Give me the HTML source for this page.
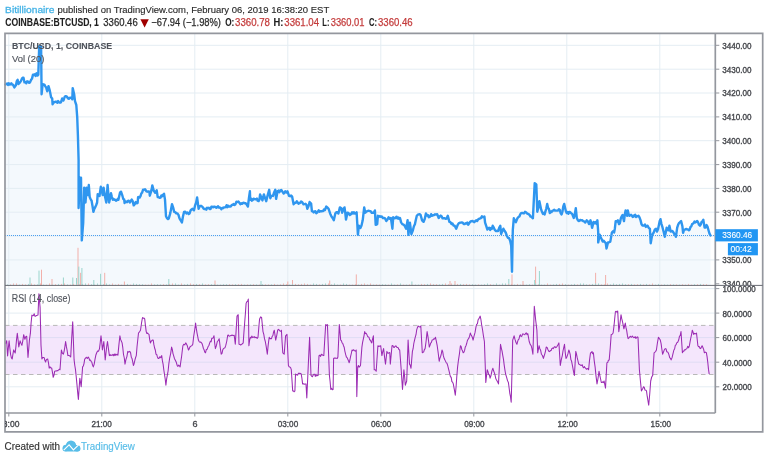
<!DOCTYPE html>
<html><head><meta charset="utf-8"><style>
html,body{margin:0;padding:0;background:#fff;width:768px;height:460px;overflow:hidden}
svg{display:block;will-change:transform}
text{font-family:"Liberation Sans", sans-serif}
</style></head><body>
<svg width="768" height="460" viewBox="0 0 768 460">
<defs><clipPath id="clipP"><rect x="700" y="0" width="68" height="285"/></clipPath><clipPath id="clipL"><rect x="5" y="0" width="100" height="460"/></clipPath></defs>
<rect x="0" y="0" width="768" height="460" fill="#fff"/>

<path d="M5.5,84.4 L13.0,84.6 L14.4,87.4 L16.0,85.0 L17.6,79.8 L18.5,84.0 L20.0,82.4 L23.5,77.8 L24.5,82.4 L30.0,82.4 L31.0,80.0 L33.0,74.6 L38.3,74.6 L39.2,46.2 L40.2,45.9 L41.1,46.5 L41.6,94.2 L42.6,84.1 L43.5,84.5 L45.2,86.1 L47.2,91.3 L48.5,86.1 L49.8,90.7 L51.1,97.2 L52.2,98.5 L52.6,104.4 L54.4,102.4 L56.3,101.8 L60.9,102.4 L62.2,98.5 L63.5,100.5 L64.8,96.5 L66.8,96.5 L68.1,98.5 L72.3,99.2 L72.7,88.1 L74.2,94.6 L75.0,101.1 L76.3,105.0 L77.2,116.8 L77.9,135.0 L78.6,160.0 L78.6,208.0 L79.9,177.6 L81.0,177.6 L81.8,240.4 L83.2,222.8 L84.2,187.7 L85.5,202.5 L86.6,187.7 L87.9,195.1 L88.8,185.0 L89.7,197.0 L91.6,200.7 L93.4,211.8 L95.3,207.1 L97.1,202.5 L97.7,194.2 L99.5,196.0 L100.8,186.8 L102.7,195.1 L103.6,187.7 L105.1,197.0 L106.3,202.5 L107.6,185.0 L109.1,202.5 L111.0,193.3 L112.8,199.7 L118.4,199.7 L120.0,192.7 L121.0,191.7 L122.4,195.7 L124.2,199.6 L124.6,203.0 L127.8,201.0 L129.8,202.5 L131.7,199.6 L133.7,205.4 L135.7,202.0 L137.6,203.0 L138.1,197.1 L140.5,196.1 L143.0,189.8 L145.0,189.3 L146.4,191.3 L149.4,191.7 L149.8,195.7 L152.3,185.4 L153.8,190.8 L155.2,192.7 L156.7,190.3 L157.7,197.1 L160.6,197.6 L163.1,194.7 L164.0,193.7 L165.0,199.6 L166.0,216.2 L168.0,219.1 L170.4,212.6 L172.0,204.2 L174.2,211.9 L177.3,213.4 L179.6,218.7 L181.9,222.5 L184.1,211.9 L186.4,213.4 L188.7,214.1 L192.5,208.8 L194.0,210.3 L197.1,197.4 L198.6,208.8 L200.9,205.8 L205.4,208.8 L213.1,207.3 L222.2,208.0 L228.3,205.8 L234.4,205.0 L237.4,202.0 L240.3,204.2 L246.4,204.2 L247.9,206.5 L249.9,191.3 L250.2,199.7 L259.4,199.7 L260.1,194.4 L262.4,200.4 L263.9,194.4 L266.2,201.2 L267.7,195.1 L269.2,189.8 L270.3,198.2 L273.0,195.9 L275.3,189.8 L276.1,198.9 L277.6,191.3 L282.2,191.3 L283.7,193.6 L285.2,191.3 L287.5,191.3 L289.0,195.9 L292.1,196.6 L293.6,204.2 L295.1,202.7 L302.0,202.0 L303.5,204.2 L306.5,205.0 L307.3,208.8 L309.6,202.0 L311.1,203.5 L311.9,211.1 L317.2,212.6 L318.7,210.3 L324.8,210.3 L326.3,206.5 L328.6,208.8 L330.1,213.4 L331.5,216.5 L333.8,220.3 L335.3,213.5 L338.4,213.5 L339.9,207.4 L341.4,208.2 L342.2,212.7 L344.5,207.4 L345.2,212.0 L346.0,219.6 L347.5,212.7 L349.8,215.0 L352.1,212.3 L356.6,212.3 L357.4,225.7 L357.9,234.8 L358.9,225.7 L360.4,227.9 L362.7,220.3 L364.2,207.4 L365.3,212.7 L367.3,211.2 L372.6,212.7 L374.9,210.4 L375.7,224.9 L377.2,224.1 L377.9,215.8 L381.8,216.5 L384.0,218.0 L386.3,221.1 L388.6,217.3 L390.9,218.0 L392.4,228.7 L393.2,217.3 L400.0,218.0 L402.3,224.1 L404.6,225.7 L406.1,228.7 L407.6,220.3 L408.4,234.8 L409.9,222.6 L411.4,234.0 L412.9,230.2 L416.8,215.8 L420.6,215.0 L422.1,220.3 L423.6,221.8 L425.9,213.5 L428.8,217.3 L431.1,214.2 L434.1,215.0 L437.2,214.2 L438.7,218.0 L441.7,216.5 L445.5,218.8 L447.8,215.8 L449.4,221.9 L452.4,223.4 L454.7,225.7 L456.2,228.7 L457.7,224.9 L460.8,222.6 L464.6,224.1 L469.1,223.4 L471.4,221.1 L475.2,221.1 L479.0,218.8 L482.8,217.3 L484.4,216.5 L485.1,222.6 L487.4,229.5 L492.0,228.7 L492.7,225.7 L495.0,230.2 L498.1,231.0 L500.3,225.7 L501.1,234.0 L503.4,228.7 L505.7,232.5 L508.0,237.8 L510.2,240.9 L511.2,245.7 L512.0,271.8 L512.8,230.0 L513.8,218.3 L515.9,222.2 L518.5,217.0 L521.1,213.1 L525.0,211.8 L528.9,214.4 L532.9,218.3 L534.7,183.1 L536.3,184.4 L537.3,211.8 L539.4,201.3 L542.0,211.8 L544.6,214.4 L547.2,203.9 L549.8,213.1 L555.0,210.5 L558.9,209.2 L561.6,214.4 L564.2,203.9 L566.8,213.1 L570.0,212.0 L572.3,214.2 L573.8,218.0 L575.8,208.2 L576.8,218.0 L579.1,221.1 L582.2,220.3 L585.2,222.6 L586.7,220.3 L589.0,224.1 L590.5,220.3 L592.1,227.9 L593.6,221.9 L596.6,224.1 L597.4,220.3 L598.2,231.8 L598.2,242.4 L599.7,234.8 L602.7,241.6 L605.8,243.2 L606.5,248.5 L608.0,242.4 L610.3,241.6 L611.9,232.5 L614.1,232.5 L615.7,221.1 L617.9,220.3 L619.0,224.1 L622.5,215.0 L624.0,221.1 L625.6,210.4 L627.1,215.8 L627.8,210.4 L629.4,215.8 L638.5,215.8 L641.5,224.1 L643.1,225.7 L647.6,225.7 L649.9,228.7 L650.7,243.2 L652.2,234.8 L653.7,232.5 L656.0,228.7 L657.0,231.6 L658.9,225.0 L660.5,219.2 L662.2,226.3 L664.8,236.8 L666.7,227.6 L668.7,230.2 L669.4,225.7 L670.7,231.6 L673.3,232.2 L675.9,236.8 L677.2,227.6 L679.8,222.4 L681.1,221.1 L682.4,226.3 L683.1,232.9 L685.0,229.6 L688.9,230.2 L692.9,223.7 L695.5,222.4 L698.1,222.4 L700.0,225.7 L703.3,219.8 L704.6,227.6 L706.6,225.0 L708.5,230.2 L710.5,235.5 L710.5,285.4 L5.5,285.4 Z" fill="#f4f9fd" stroke="none"/>
<g stroke="#e4edf3" stroke-width="1"><line x1="8.8" y1="33.4" x2="8.8" y2="413.0" /><line x1="101.8" y1="33.4" x2="101.8" y2="413.0" /><line x1="194.8" y1="33.4" x2="194.8" y2="413.0" /><line x1="287.8" y1="33.4" x2="287.8" y2="413.0" /><line x1="380.8" y1="33.4" x2="380.8" y2="413.0" /><line x1="473.8" y1="33.4" x2="473.8" y2="413.0" /><line x1="566.8" y1="33.4" x2="566.8" y2="413.0" /><line x1="659.8" y1="33.4" x2="659.8" y2="413.0" /><line x1="5.0" y1="45.3" x2="715.3" y2="45.3" /><line x1="5.0" y1="69.2" x2="715.3" y2="69.2" /><line x1="5.0" y1="93.0" x2="715.3" y2="93.0" /><line x1="5.0" y1="116.9" x2="715.3" y2="116.9" /><line x1="5.0" y1="140.7" x2="715.3" y2="140.7" /><line x1="5.0" y1="164.6" x2="715.3" y2="164.6" /><line x1="5.0" y1="188.4" x2="715.3" y2="188.4" /><line x1="5.0" y1="212.2" x2="715.3" y2="212.2" /><line x1="5.0" y1="236.1" x2="715.3" y2="236.1" /><line x1="5.0" y1="259.9" x2="715.3" y2="259.9" /><line x1="5.0" y1="288.6" x2="715.3" y2="288.6" /><line x1="5.0" y1="313.1" x2="715.3" y2="313.1" /><line x1="5.0" y1="337.6" x2="715.3" y2="337.6" /><line x1="5.0" y1="362.2" x2="715.3" y2="362.2" /><line x1="5.0" y1="386.8" x2="715.3" y2="386.8" /></g>
<rect x="29.5" y="277.5" width="1" height="7.9" fill="#9ad5cd"/><rect x="38.5" y="270.6" width="1" height="14.8" fill="#9ad5cd"/><rect x="41.0" y="269.7" width="1" height="15.7" fill="#f2b0aa"/><rect x="51.5" y="279.0" width="1" height="6.4" fill="#f2b0aa"/><rect x="62.9" y="277.5" width="1" height="7.9" fill="#9ad5cd"/><rect x="72.3" y="277.5" width="1" height="7.9" fill="#9ad5cd"/><rect x="76.0" y="278.0" width="1" height="7.4" fill="#9ad5cd"/><rect x="77.5" y="247.8" width="1" height="37.6" fill="#f2b0aa"/><rect x="78.3" y="266.6" width="1" height="18.8" fill="#9ad5cd"/><rect x="80.1" y="272.8" width="1" height="12.6" fill="#f2b0aa"/><rect x="81.4" y="268.0" width="1" height="17.4" fill="#9ad5cd"/><rect x="93.3" y="280.0" width="1" height="5.4" fill="#9ad5cd"/><rect x="100.1" y="273.8" width="1" height="11.6" fill="#9ad5cd"/><rect x="104.2" y="272.8" width="1" height="12.6" fill="#f2b0aa"/><rect x="123.9" y="281.5" width="1" height="3.9" fill="#f2b0aa"/><rect x="168.3" y="279.0" width="1" height="6.4" fill="#9ad5cd"/><rect x="214.5" y="280.5" width="1" height="4.9" fill="#f2b0aa"/><rect x="260.5" y="281.0" width="1" height="4.4" fill="#9ad5cd"/><rect x="287.3" y="281.5" width="1" height="3.9" fill="#f2b0aa"/><rect x="292.0" y="280.0" width="1" height="5.4" fill="#f2b0aa"/><rect x="329.2" y="280.5" width="1" height="4.9" fill="#f2b0aa"/><rect x="355.8" y="274.4" width="1" height="11.0" fill="#f2b0aa"/><rect x="411.4" y="281.5" width="1" height="3.9" fill="#9ad5cd"/><rect x="449.5" y="281.0" width="1" height="4.4" fill="#f2b0aa"/><rect x="454.5" y="281.0" width="1" height="4.4" fill="#f2b0aa"/><rect x="508.3" y="279.0" width="1" height="6.4" fill="#9ad5cd"/><rect x="511.5" y="274.4" width="1" height="11.0" fill="#f2b0aa"/><rect x="522.5" y="281.0" width="1" height="4.4" fill="#f2b0aa"/><rect x="534.2" y="280.0" width="1" height="5.4" fill="#9ad5cd"/><rect x="535.1" y="266.6" width="1" height="18.8" fill="#f2b0aa"/><rect x="538.9" y="271.0" width="1" height="14.4" fill="#9ad5cd"/><rect x="595.1" y="272.8" width="1" height="12.6" fill="#f2b0aa"/><rect x="605.1" y="275.0" width="1" height="10.4" fill="#f2b0aa"/><rect x="7" y="284.4" width="1" height="1" fill="#acdcd5"/><rect x="10" y="284.4" width="1" height="1" fill="#f4c0bb"/><rect x="13" y="283.4" width="1" height="2" fill="#f4c0bb"/><rect x="16" y="283.4" width="1" height="2" fill="#f4c0bb"/><rect x="19" y="284.6" width="1" height="0.8" fill="#acdcd5"/><rect x="22" y="283.9" width="1" height="1.5" fill="#f4c0bb"/><rect x="25" y="284.4" width="1" height="1" fill="#f4c0bb"/><rect x="28" y="283.9" width="1" height="1.5" fill="#acdcd5"/><rect x="31" y="283.4" width="1" height="2" fill="#f4c0bb"/><rect x="34" y="284.4" width="1" height="1" fill="#f4c0bb"/><rect x="37" y="284.4" width="1" height="1" fill="#acdcd5"/><rect x="40" y="283.4" width="1" height="2" fill="#f4c0bb"/><rect x="43" y="284.6" width="1" height="0.8" fill="#acdcd5"/><rect x="46" y="284.6" width="1" height="0.8" fill="#f4c0bb"/><rect x="49" y="283.4" width="1" height="2" fill="#f4c0bb"/><rect x="52" y="284.6" width="1" height="0.8" fill="#acdcd5"/><rect x="55" y="284.2" width="1" height="1.2" fill="#f4c0bb"/><rect x="58" y="283.9" width="1" height="1.5" fill="#acdcd5"/><rect x="61" y="283.9" width="1" height="1.5" fill="#f4c0bb"/><rect x="64" y="283.4" width="1" height="2" fill="#f4c0bb"/><rect x="67" y="284.4" width="1" height="1" fill="#acdcd5"/><rect x="70" y="284.6" width="1" height="0.8" fill="#f4c0bb"/><rect x="73" y="283.9" width="1" height="1.5" fill="#f4c0bb"/><rect x="76" y="283.9" width="1" height="1.5" fill="#acdcd5"/><rect x="79" y="284.2" width="1" height="1.2" fill="#f4c0bb"/><rect x="82" y="283.9" width="1" height="1.5" fill="#acdcd5"/><rect x="85" y="283.4" width="1" height="2" fill="#acdcd5"/><rect x="88" y="283.4" width="1" height="2" fill="#f4c0bb"/><rect x="91" y="284.2" width="1" height="1.2" fill="#acdcd5"/><rect x="94" y="284.6" width="1" height="0.8" fill="#acdcd5"/><rect x="97" y="283.4" width="1" height="2" fill="#acdcd5"/><rect x="100" y="284.4" width="1" height="1" fill="#acdcd5"/><rect x="103" y="284.2" width="1" height="1.2" fill="#acdcd5"/><rect x="106" y="283.4" width="1" height="2" fill="#acdcd5"/><rect x="109" y="284.4" width="1" height="1" fill="#acdcd5"/><rect x="112" y="283.4" width="1" height="2" fill="#f4c0bb"/><rect x="115" y="284.6" width="1" height="0.8" fill="#f4c0bb"/><rect x="118" y="283.9" width="1" height="1.5" fill="#f4c0bb"/><rect x="121" y="284.6" width="1" height="0.8" fill="#f4c0bb"/><rect x="124" y="284.4" width="1" height="1" fill="#f4c0bb"/><rect x="127" y="283.9" width="1" height="1.5" fill="#acdcd5"/><rect x="130" y="284.6" width="1" height="0.8" fill="#f4c0bb"/><rect x="133" y="283.4" width="1" height="2" fill="#acdcd5"/><rect x="136" y="283.9" width="1" height="1.5" fill="#acdcd5"/><rect x="139" y="284.2" width="1" height="1.2" fill="#acdcd5"/><rect x="142" y="284.2" width="1" height="1.2" fill="#acdcd5"/><rect x="145" y="284.6" width="1" height="0.8" fill="#f4c0bb"/><rect x="148" y="284.6" width="1" height="0.8" fill="#f4c0bb"/><rect x="151" y="283.4" width="1" height="2" fill="#f4c0bb"/><rect x="154" y="284.4" width="1" height="1" fill="#acdcd5"/><rect x="157" y="284.2" width="1" height="1.2" fill="#acdcd5"/><rect x="160" y="284.4" width="1" height="1" fill="#acdcd5"/><rect x="163" y="284.2" width="1" height="1.2" fill="#f4c0bb"/><rect x="166" y="284.4" width="1" height="1" fill="#acdcd5"/><rect x="169" y="283.9" width="1" height="1.5" fill="#f4c0bb"/><rect x="172" y="283.4" width="1" height="2" fill="#f4c0bb"/><rect x="175" y="283.4" width="1" height="2" fill="#acdcd5"/><rect x="178" y="284.6" width="1" height="0.8" fill="#acdcd5"/><rect x="181" y="283.4" width="1" height="2" fill="#f4c0bb"/><rect x="184" y="284.4" width="1" height="1" fill="#acdcd5"/><rect x="187" y="283.9" width="1" height="1.5" fill="#acdcd5"/><rect x="190" y="283.4" width="1" height="2" fill="#f4c0bb"/><rect x="193" y="284.2" width="1" height="1.2" fill="#f4c0bb"/><rect x="196" y="283.9" width="1" height="1.5" fill="#acdcd5"/><rect x="199" y="284.2" width="1" height="1.2" fill="#f4c0bb"/><rect x="202" y="283.4" width="1" height="2" fill="#acdcd5"/><rect x="205" y="284.4" width="1" height="1" fill="#f4c0bb"/><rect x="208" y="284.2" width="1" height="1.2" fill="#f4c0bb"/><rect x="211" y="284.2" width="1" height="1.2" fill="#acdcd5"/><rect x="214" y="284.2" width="1" height="1.2" fill="#acdcd5"/><rect x="217" y="284.6" width="1" height="0.8" fill="#acdcd5"/><rect x="220" y="284.6" width="1" height="0.8" fill="#acdcd5"/><rect x="223" y="284.2" width="1" height="1.2" fill="#acdcd5"/><rect x="226" y="284.2" width="1" height="1.2" fill="#acdcd5"/><rect x="229" y="284.2" width="1" height="1.2" fill="#f4c0bb"/><rect x="232" y="284.4" width="1" height="1" fill="#f4c0bb"/><rect x="235" y="284.2" width="1" height="1.2" fill="#acdcd5"/><rect x="238" y="284.2" width="1" height="1.2" fill="#f4c0bb"/><rect x="241" y="283.9" width="1" height="1.5" fill="#f4c0bb"/><rect x="244" y="284.6" width="1" height="0.8" fill="#acdcd5"/><rect x="247" y="284.4" width="1" height="1" fill="#f4c0bb"/><rect x="250" y="284.4" width="1" height="1" fill="#acdcd5"/><rect x="253" y="284.2" width="1" height="1.2" fill="#f4c0bb"/><rect x="256" y="284.4" width="1" height="1" fill="#acdcd5"/><rect x="259" y="284.6" width="1" height="0.8" fill="#f4c0bb"/><rect x="262" y="284.2" width="1" height="1.2" fill="#acdcd5"/><rect x="265" y="284.4" width="1" height="1" fill="#f4c0bb"/><rect x="268" y="284.4" width="1" height="1" fill="#f4c0bb"/><rect x="271" y="284.4" width="1" height="1" fill="#acdcd5"/><rect x="274" y="283.9" width="1" height="1.5" fill="#f4c0bb"/><rect x="277" y="284.6" width="1" height="0.8" fill="#f4c0bb"/><rect x="280" y="284.4" width="1" height="1" fill="#f4c0bb"/><rect x="283" y="283.4" width="1" height="2" fill="#f4c0bb"/><rect x="286" y="284.2" width="1" height="1.2" fill="#f4c0bb"/><rect x="289" y="284.6" width="1" height="0.8" fill="#acdcd5"/><rect x="292" y="284.2" width="1" height="1.2" fill="#acdcd5"/><rect x="295" y="283.9" width="1" height="1.5" fill="#f4c0bb"/><rect x="298" y="284.2" width="1" height="1.2" fill="#f4c0bb"/><rect x="301" y="283.9" width="1" height="1.5" fill="#f4c0bb"/><rect x="304" y="283.4" width="1" height="2" fill="#f4c0bb"/><rect x="307" y="283.9" width="1" height="1.5" fill="#f4c0bb"/><rect x="310" y="284.6" width="1" height="0.8" fill="#f4c0bb"/><rect x="313" y="283.4" width="1" height="2" fill="#acdcd5"/><rect x="316" y="283.9" width="1" height="1.5" fill="#acdcd5"/><rect x="319" y="284.4" width="1" height="1" fill="#f4c0bb"/><rect x="322" y="283.9" width="1" height="1.5" fill="#acdcd5"/><rect x="325" y="283.4" width="1" height="2" fill="#acdcd5"/><rect x="328" y="283.4" width="1" height="2" fill="#f4c0bb"/><rect x="331" y="284.4" width="1" height="1" fill="#acdcd5"/><rect x="334" y="283.4" width="1" height="2" fill="#acdcd5"/><rect x="337" y="284.6" width="1" height="0.8" fill="#acdcd5"/><rect x="340" y="284.6" width="1" height="0.8" fill="#f4c0bb"/><rect x="343" y="283.4" width="1" height="2" fill="#acdcd5"/><rect x="346" y="283.9" width="1" height="1.5" fill="#acdcd5"/><rect x="349" y="284.6" width="1" height="0.8" fill="#f4c0bb"/><rect x="352" y="284.6" width="1" height="0.8" fill="#f4c0bb"/><rect x="355" y="284.2" width="1" height="1.2" fill="#f4c0bb"/><rect x="358" y="284.6" width="1" height="0.8" fill="#acdcd5"/><rect x="361" y="283.9" width="1" height="1.5" fill="#f4c0bb"/><rect x="364" y="283.4" width="1" height="2" fill="#f4c0bb"/><rect x="367" y="284.4" width="1" height="1" fill="#f4c0bb"/><rect x="370" y="283.4" width="1" height="2" fill="#f4c0bb"/><rect x="373" y="284.6" width="1" height="0.8" fill="#f4c0bb"/><rect x="376" y="284.4" width="1" height="1" fill="#f4c0bb"/><rect x="379" y="284.6" width="1" height="0.8" fill="#f4c0bb"/><rect x="382" y="284.2" width="1" height="1.2" fill="#acdcd5"/><rect x="385" y="284.4" width="1" height="1" fill="#acdcd5"/><rect x="388" y="284.6" width="1" height="0.8" fill="#f4c0bb"/><rect x="391" y="283.4" width="1" height="2" fill="#acdcd5"/><rect x="394" y="284.6" width="1" height="0.8" fill="#acdcd5"/><rect x="397" y="284.4" width="1" height="1" fill="#f4c0bb"/><rect x="400" y="283.4" width="1" height="2" fill="#acdcd5"/><rect x="403" y="284.6" width="1" height="0.8" fill="#f4c0bb"/><rect x="406" y="284.6" width="1" height="0.8" fill="#acdcd5"/><rect x="409" y="284.4" width="1" height="1" fill="#f4c0bb"/><rect x="412" y="284.6" width="1" height="0.8" fill="#f4c0bb"/><rect x="415" y="284.6" width="1" height="0.8" fill="#acdcd5"/><rect x="418" y="284.6" width="1" height="0.8" fill="#acdcd5"/><rect x="421" y="283.9" width="1" height="1.5" fill="#f4c0bb"/><rect x="424" y="284.2" width="1" height="1.2" fill="#f4c0bb"/><rect x="427" y="283.9" width="1" height="1.5" fill="#acdcd5"/><rect x="430" y="283.4" width="1" height="2" fill="#f4c0bb"/><rect x="433" y="284.2" width="1" height="1.2" fill="#f4c0bb"/><rect x="436" y="284.2" width="1" height="1.2" fill="#f4c0bb"/><rect x="439" y="284.4" width="1" height="1" fill="#acdcd5"/><rect x="442" y="283.9" width="1" height="1.5" fill="#acdcd5"/><rect x="445" y="283.4" width="1" height="2" fill="#f4c0bb"/><rect x="448" y="284.2" width="1" height="1.2" fill="#f4c0bb"/><rect x="451" y="283.4" width="1" height="2" fill="#f4c0bb"/><rect x="454" y="284.6" width="1" height="0.8" fill="#acdcd5"/><rect x="457" y="283.9" width="1" height="1.5" fill="#f4c0bb"/><rect x="460" y="283.9" width="1" height="1.5" fill="#acdcd5"/><rect x="463" y="284.2" width="1" height="1.2" fill="#f4c0bb"/><rect x="466" y="283.9" width="1" height="1.5" fill="#f4c0bb"/><rect x="469" y="284.4" width="1" height="1" fill="#f4c0bb"/><rect x="472" y="284.2" width="1" height="1.2" fill="#acdcd5"/><rect x="475" y="284.6" width="1" height="0.8" fill="#acdcd5"/><rect x="478" y="284.4" width="1" height="1" fill="#f4c0bb"/><rect x="481" y="284.6" width="1" height="0.8" fill="#acdcd5"/><rect x="484" y="284.2" width="1" height="1.2" fill="#acdcd5"/><rect x="487" y="283.4" width="1" height="2" fill="#acdcd5"/><rect x="490" y="284.2" width="1" height="1.2" fill="#f4c0bb"/><rect x="493" y="284.6" width="1" height="0.8" fill="#acdcd5"/><rect x="496" y="283.4" width="1" height="2" fill="#acdcd5"/><rect x="499" y="284.6" width="1" height="0.8" fill="#acdcd5"/><rect x="502" y="283.4" width="1" height="2" fill="#acdcd5"/><rect x="505" y="283.4" width="1" height="2" fill="#acdcd5"/><rect x="508" y="283.9" width="1" height="1.5" fill="#f4c0bb"/><rect x="511" y="283.9" width="1" height="1.5" fill="#f4c0bb"/><rect x="514" y="284.6" width="1" height="0.8" fill="#acdcd5"/><rect x="517" y="283.9" width="1" height="1.5" fill="#f4c0bb"/><rect x="520" y="284.6" width="1" height="0.8" fill="#f4c0bb"/><rect x="523" y="284.6" width="1" height="0.8" fill="#f4c0bb"/><rect x="526" y="284.6" width="1" height="0.8" fill="#acdcd5"/><rect x="529" y="284.2" width="1" height="1.2" fill="#acdcd5"/><rect x="532" y="284.6" width="1" height="0.8" fill="#f4c0bb"/><rect x="535" y="283.4" width="1" height="2" fill="#acdcd5"/><rect x="538" y="284.4" width="1" height="1" fill="#f4c0bb"/><rect x="541" y="284.6" width="1" height="0.8" fill="#acdcd5"/><rect x="544" y="284.6" width="1" height="0.8" fill="#acdcd5"/><rect x="547" y="283.4" width="1" height="2" fill="#f4c0bb"/><rect x="550" y="284.6" width="1" height="0.8" fill="#f4c0bb"/><rect x="553" y="284.4" width="1" height="1" fill="#acdcd5"/><rect x="556" y="283.9" width="1" height="1.5" fill="#acdcd5"/><rect x="559" y="283.9" width="1" height="1.5" fill="#f4c0bb"/><rect x="562" y="283.4" width="1" height="2" fill="#f4c0bb"/><rect x="565" y="284.2" width="1" height="1.2" fill="#acdcd5"/><rect x="568" y="284.6" width="1" height="0.8" fill="#f4c0bb"/><rect x="571" y="284.4" width="1" height="1" fill="#acdcd5"/><rect x="574" y="283.9" width="1" height="1.5" fill="#acdcd5"/><rect x="577" y="284.4" width="1" height="1" fill="#f4c0bb"/><rect x="580" y="283.4" width="1" height="2" fill="#acdcd5"/><rect x="583" y="283.4" width="1" height="2" fill="#acdcd5"/><rect x="586" y="284.4" width="1" height="1" fill="#acdcd5"/><rect x="589" y="284.4" width="1" height="1" fill="#f4c0bb"/><rect x="592" y="283.9" width="1" height="1.5" fill="#acdcd5"/><rect x="595" y="283.4" width="1" height="2" fill="#acdcd5"/><rect x="598" y="283.4" width="1" height="2" fill="#acdcd5"/><rect x="601" y="284.4" width="1" height="1" fill="#f4c0bb"/><rect x="604" y="284.4" width="1" height="1" fill="#f4c0bb"/><rect x="607" y="283.4" width="1" height="2" fill="#f4c0bb"/><rect x="610" y="284.4" width="1" height="1" fill="#acdcd5"/><rect x="613" y="283.4" width="1" height="2" fill="#acdcd5"/><rect x="616" y="284.2" width="1" height="1.2" fill="#acdcd5"/><rect x="619" y="283.9" width="1" height="1.5" fill="#acdcd5"/><rect x="622" y="283.4" width="1" height="2" fill="#acdcd5"/><rect x="625" y="284.2" width="1" height="1.2" fill="#acdcd5"/><rect x="628" y="284.2" width="1" height="1.2" fill="#f4c0bb"/><rect x="631" y="283.9" width="1" height="1.5" fill="#acdcd5"/><rect x="634" y="284.4" width="1" height="1" fill="#f4c0bb"/><rect x="637" y="284.2" width="1" height="1.2" fill="#f4c0bb"/><rect x="640" y="283.9" width="1" height="1.5" fill="#acdcd5"/><rect x="643" y="284.4" width="1" height="1" fill="#f4c0bb"/><rect x="646" y="283.9" width="1" height="1.5" fill="#acdcd5"/><rect x="649" y="284.4" width="1" height="1" fill="#f4c0bb"/><rect x="652" y="283.4" width="1" height="2" fill="#f4c0bb"/><rect x="655" y="284.6" width="1" height="0.8" fill="#acdcd5"/><rect x="658" y="283.9" width="1" height="1.5" fill="#acdcd5"/><rect x="661" y="284.6" width="1" height="0.8" fill="#f4c0bb"/><rect x="664" y="284.4" width="1" height="1" fill="#acdcd5"/><rect x="667" y="284.6" width="1" height="0.8" fill="#acdcd5"/><rect x="670" y="284.2" width="1" height="1.2" fill="#f4c0bb"/><rect x="673" y="284.4" width="1" height="1" fill="#acdcd5"/><rect x="676" y="284.4" width="1" height="1" fill="#f4c0bb"/><rect x="679" y="284.6" width="1" height="0.8" fill="#acdcd5"/><rect x="682" y="284.2" width="1" height="1.2" fill="#f4c0bb"/><rect x="685" y="284.6" width="1" height="0.8" fill="#f4c0bb"/><rect x="688" y="283.9" width="1" height="1.5" fill="#f4c0bb"/><rect x="691" y="284.6" width="1" height="0.8" fill="#f4c0bb"/><rect x="694" y="284.2" width="1" height="1.2" fill="#acdcd5"/><rect x="697" y="284.2" width="1" height="1.2" fill="#f4c0bb"/><rect x="700" y="283.9" width="1" height="1.5" fill="#acdcd5"/><rect x="703" y="284.2" width="1" height="1.2" fill="#f4c0bb"/><rect x="706" y="284.2" width="1" height="1.2" fill="#f4c0bb"/>
<path d="M5.5,84.4 L6.3,83.9 L7.2,83.5 L8.0,84.9 L8.8,83.3 L9.7,84.6 L10.5,84.2 L11.3,83.3 L12.2,84.6 L13.0,84.6 L14.4,87.4 L16.0,85.0 L16.8,81.1 L17.6,79.8 L18.5,84.0 L20.0,82.4 L20.9,81.1 L21.8,78.9 L22.6,77.8 L23.5,77.8 L24.5,82.4 L25.4,82.2 L26.3,83.3 L27.2,81.3 L28.2,81.6 L29.1,82.8 L30.0,82.4 L31.0,80.0 L32.0,78.6 L33.0,74.6 L33.9,74.8 L34.8,74.3 L35.6,75.9 L36.5,73.3 L37.4,75.6 L38.3,74.6 L39.2,46.2 L40.2,45.9 L41.1,46.5 L41.6,94.2 L42.6,84.1 L43.5,84.5 L44.4,84.7 L45.2,86.1 L46.2,87.7 L47.2,91.3 L48.5,86.1 L49.8,90.7 L51.1,97.2 L52.2,98.5 L52.6,104.4 L53.5,102.3 L54.4,102.4 L55.3,101.6 L56.3,101.8 L57.2,102.8 L58.1,101.1 L59.1,102.4 L60.0,102.7 L60.9,102.4 L62.2,98.5 L63.5,100.5 L64.8,96.5 L65.8,96.1 L66.8,96.5 L68.1,98.5 L68.9,98.8 L69.8,97.6 L70.6,97.7 L71.5,98.2 L72.3,99.2 L72.7,88.1 L74.2,94.6 L75.0,101.1 L76.3,105.0 L77.2,116.8 L77.9,135.0 L78.6,160.0 L78.6,208.0 L79.9,177.6 L81.0,177.6 L81.8,240.4 L83.2,222.8 L84.2,187.7 L85.5,202.5 L86.6,187.7 L87.9,195.1 L88.8,185.0 L89.7,197.0 L90.7,199.4 L91.6,200.7 L92.5,206.0 L93.4,211.8 L94.3,208.9 L95.3,207.1 L96.2,205.0 L97.1,202.5 L97.7,194.2 L98.6,195.0 L99.5,196.0 L100.8,186.8 L101.8,190.4 L102.7,195.1 L103.6,187.7 L105.1,197.0 L106.3,202.5 L107.6,185.0 L109.1,202.5 L110.0,198.7 L111.0,193.3 L111.9,197.1 L112.8,199.7 L113.6,199.0 L114.4,199.9 L115.2,199.8 L116.0,200.8 L116.8,200.3 L117.6,199.1 L118.4,199.7 L120.0,192.7 L121.0,191.7 L122.4,195.7 L123.3,199.0 L124.2,199.6 L124.6,203.0 L125.4,201.4 L126.2,201.8 L127.0,202.2 L127.8,201.0 L128.8,200.8 L129.8,202.5 L130.8,201.0 L131.7,199.6 L132.7,201.2 L133.7,205.4 L134.7,204.2 L135.7,202.0 L136.6,203.2 L137.6,203.0 L138.1,197.1 L138.9,197.0 L139.7,197.5 L140.5,196.1 L141.3,193.5 L142.2,192.4 L143.0,189.8 L144.0,189.8 L145.0,189.3 L146.4,191.3 L147.4,191.7 L148.4,191.4 L149.4,191.7 L149.8,195.7 L150.6,193.2 L151.5,190.1 L152.3,185.4 L153.8,190.8 L155.2,192.7 L156.7,190.3 L157.7,197.1 L158.7,197.2 L159.6,197.9 L160.6,197.6 L161.4,195.4 L162.3,196.2 L163.1,194.7 L164.0,193.7 L165.0,199.6 L166.0,216.2 L167.0,218.1 L168.0,219.1 L168.8,218.3 L169.6,215.7 L170.4,212.6 L172.0,204.2 L173.1,207.4 L174.2,211.9 L175.2,212.1 L176.3,213.4 L177.3,213.4 L178.4,214.7 L179.6,218.7 L180.8,220.5 L181.9,222.5 L183.0,216.3 L184.1,211.9 L185.2,211.6 L186.4,213.4 L187.6,212.5 L188.7,214.1 L189.6,213.5 L190.6,210.4 L191.6,209.4 L192.5,208.8 L194.0,210.3 L195.0,205.7 L196.1,202.7 L197.1,197.4 L198.6,208.8 L199.8,206.1 L200.9,205.8 L201.8,206.3 L202.7,207.1 L203.6,208.7 L204.5,209.1 L205.4,208.8 L206.3,209.7 L207.1,207.8 L208.0,208.1 L208.8,207.7 L209.7,209.0 L210.5,209.1 L211.4,206.7 L212.2,206.6 L213.1,207.3 L213.9,206.6 L214.8,206.7 L215.6,207.4 L216.4,207.8 L217.2,207.0 L218.1,206.3 L218.9,207.5 L219.7,207.4 L220.5,208.1 L221.4,209.2 L222.2,208.0 L223.1,208.2 L223.9,207.4 L224.8,207.4 L225.7,207.2 L226.6,205.2 L227.4,207.2 L228.3,205.8 L229.2,206.5 L230.0,206.6 L230.9,206.3 L231.8,205.0 L232.7,204.9 L233.5,204.0 L234.4,205.0 L235.4,204.4 L236.4,201.8 L237.4,202.0 L238.4,201.5 L239.3,202.7 L240.3,204.2 L241.2,203.3 L242.0,203.8 L242.9,202.9 L243.8,202.8 L244.7,203.2 L245.5,203.1 L246.4,204.2 L247.9,206.5 L248.9,198.5 L249.9,191.3 L250.2,199.7 L251.0,198.4 L251.9,200.7 L252.7,200.0 L253.5,198.7 L254.4,199.0 L255.2,199.3 L256.1,199.3 L256.9,198.6 L257.7,200.7 L258.6,201.1 L259.4,199.7 L260.1,194.4 L261.2,197.3 L262.4,200.4 L263.9,194.4 L265.0,197.8 L266.2,201.2 L267.7,195.1 L269.2,189.8 L270.3,198.2 L271.2,196.3 L272.1,195.6 L273.0,195.9 L274.1,192.4 L275.3,189.8 L276.1,198.9 L277.6,191.3 L278.5,190.6 L279.4,192.2 L280.4,190.4 L281.3,190.0 L282.2,191.3 L283.7,193.6 L285.2,191.3 L286.4,192.6 L287.5,191.3 L289.0,195.9 L290.0,196.2 L291.1,195.4 L292.1,196.6 L293.6,204.2 L295.1,202.7 L296.0,202.7 L296.8,201.2 L297.7,202.5 L298.6,203.7 L299.4,203.3 L300.3,202.7 L301.1,201.4 L302.0,202.0 L303.5,204.2 L304.5,204.1 L305.5,203.8 L306.5,205.0 L307.3,208.8 L308.5,206.2 L309.6,202.0 L311.1,203.5 L311.9,211.1 L312.8,211.4 L313.7,212.4 L314.5,211.4 L315.4,211.3 L316.3,213.2 L317.2,212.6 L318.7,210.3 L319.6,211.7 L320.4,211.3 L321.3,211.2 L322.2,211.2 L323.1,211.0 L323.9,209.5 L324.8,210.3 L326.3,206.5 L327.5,207.7 L328.6,208.8 L330.1,213.4 L331.5,216.5 L332.6,218.0 L333.8,220.3 L335.3,213.5 L336.3,212.2 L337.4,212.2 L338.4,213.5 L339.9,207.4 L341.4,208.2 L342.2,212.7 L343.4,209.4 L344.5,207.4 L345.2,212.0 L346.0,219.6 L347.5,212.7 L348.6,213.2 L349.8,215.0 L351.0,214.2 L352.1,212.3 L353.0,213.6 L353.9,212.2 L354.8,213.5 L355.7,213.7 L356.6,212.3 L357.4,225.7 L357.9,234.8 L358.9,225.7 L360.4,227.9 L361.5,225.4 L362.7,220.3 L364.2,207.4 L365.3,212.7 L366.3,211.6 L367.3,211.2 L368.2,210.7 L369.1,210.9 L370.0,211.1 L370.8,211.4 L371.7,212.8 L372.6,212.7 L373.8,212.7 L374.9,210.4 L375.7,224.9 L377.2,224.1 L377.9,215.8 L378.9,216.9 L379.9,216.1 L380.8,216.8 L381.8,216.5 L382.9,218.1 L384.0,218.0 L385.1,218.4 L386.3,221.1 L387.5,219.6 L388.6,217.3 L389.8,218.8 L390.9,218.0 L392.4,228.7 L393.2,217.3 L394.1,218.2 L394.9,218.2 L395.8,217.5 L396.6,216.7 L397.4,218.5 L398.3,217.4 L399.1,218.8 L400.0,218.0 L401.1,222.4 L402.3,224.1 L403.5,224.6 L404.6,225.7 L406.1,228.7 L407.6,220.3 L408.4,234.8 L409.9,222.6 L411.4,234.0 L412.9,230.2 L413.9,226.3 L414.9,224.3 L415.8,220.0 L416.8,215.8 L417.8,214.7 L418.7,214.4 L419.7,214.2 L420.6,215.0 L422.1,220.3 L423.6,221.8 L424.8,218.8 L425.9,213.5 L426.9,215.6 L427.8,215.0 L428.8,217.3 L430.0,216.7 L431.1,214.2 L432.1,215.8 L433.1,215.2 L434.1,215.0 L435.1,214.3 L436.2,214.6 L437.2,214.2 L438.7,218.0 L439.7,216.5 L440.7,215.6 L441.7,216.5 L442.6,218.4 L443.6,218.1 L444.6,218.3 L445.5,218.8 L446.6,218.5 L447.8,215.8 L449.4,221.9 L450.4,222.2 L451.4,223.9 L452.4,223.4 L453.5,225.5 L454.7,225.7 L456.2,228.7 L457.7,224.9 L458.7,223.3 L459.8,222.7 L460.8,222.6 L461.8,222.4 L462.7,222.6 L463.7,224.0 L464.6,224.1 L465.5,223.3 L466.4,223.6 L467.3,222.6 L468.2,224.7 L469.1,223.4 L470.2,221.8 L471.4,221.1 L472.3,221.0 L473.3,221.3 L474.2,222.2 L475.2,221.1 L476.1,220.3 L477.1,221.1 L478.1,219.4 L479.0,218.8 L479.9,218.5 L480.9,218.1 L481.9,216.3 L482.8,217.3 L484.4,216.5 L485.1,222.6 L486.2,225.9 L487.4,229.5 L488.3,228.5 L489.2,227.8 L490.2,229.9 L491.1,227.9 L492.0,228.7 L492.7,225.7 L493.9,227.9 L495.0,230.2 L496.0,231.1 L497.1,230.9 L498.1,231.0 L499.2,227.9 L500.3,225.7 L501.1,234.0 L502.2,231.4 L503.4,228.7 L504.5,230.8 L505.7,232.5 L506.9,235.9 L508.0,237.8 L509.1,238.2 L510.2,240.9 L511.2,245.7 L512.0,271.8 L512.8,230.0 L513.8,218.3 L514.8,220.4 L515.9,222.2 L516.8,219.8 L517.6,218.1 L518.5,217.0 L519.4,216.5 L520.2,214.4 L521.1,213.1 L522.1,212.9 L523.0,213.2 L524.0,213.3 L525.0,211.8 L526.0,212.3 L527.0,213.4 L527.9,213.8 L528.9,214.4 L529.7,215.2 L530.5,216.5 L531.3,216.6 L532.1,217.6 L532.9,218.3 L533.8,200.6 L534.7,183.1 L536.3,184.4 L537.3,211.8 L538.3,207.8 L539.4,201.3 L540.3,205.4 L541.1,209.4 L542.0,211.8 L542.9,213.9 L543.7,212.9 L544.6,214.4 L545.5,211.1 L546.3,208.6 L547.2,203.9 L548.1,207.9 L548.9,209.0 L549.8,213.1 L550.7,211.6 L551.5,212.1 L552.4,210.6 L553.3,210.6 L554.1,209.7 L555.0,210.5 L556.0,210.6 L557.0,210.6 L557.9,210.6 L558.9,209.2 L559.8,210.0 L560.7,213.3 L561.6,214.4 L562.5,211.3 L563.3,206.4 L564.2,203.9 L565.1,208.0 L565.9,211.3 L566.8,213.1 L567.6,212.0 L568.4,213.8 L569.2,212.0 L570.0,212.0 L571.1,213.1 L572.3,214.2 L573.8,218.0 L574.8,214.5 L575.8,208.2 L576.8,218.0 L578.0,220.5 L579.1,221.1 L580.1,219.9 L581.2,220.4 L582.2,220.3 L583.2,221.1 L584.2,221.4 L585.2,222.6 L586.7,220.3 L587.9,221.3 L589.0,224.1 L590.5,220.3 L591.3,223.6 L592.1,227.9 L593.6,221.9 L594.6,223.3 L595.6,222.0 L596.6,224.1 L597.4,220.3 L598.2,231.8 L598.2,242.4 L599.7,234.8 L600.7,237.2 L601.7,239.2 L602.7,241.6 L603.7,240.8 L604.8,242.2 L605.8,243.2 L606.5,248.5 L608.0,242.4 L609.1,242.3 L610.3,241.6 L611.1,237.1 L611.9,232.5 L613.0,231.3 L614.1,232.5 L614.9,228.2 L615.7,221.1 L616.8,221.5 L617.9,220.3 L619.0,224.1 L619.9,223.1 L620.8,218.4 L621.6,216.6 L622.5,215.0 L624.0,221.1 L624.8,214.5 L625.6,210.4 L627.1,215.8 L627.8,210.4 L628.6,213.9 L629.4,215.8 L630.2,215.2 L631.1,214.8 L631.9,215.6 L632.7,217.0 L633.5,216.7 L634.4,215.1 L635.2,214.8 L636.0,217.0 L636.8,216.0 L637.7,216.4 L638.5,215.8 L639.5,217.4 L640.5,220.1 L641.5,224.1 L642.3,225.4 L643.1,225.7 L644.0,225.5 L644.9,224.5 L645.8,226.9 L646.7,226.1 L647.6,225.7 L648.8,228.0 L649.9,228.7 L650.7,243.2 L652.2,234.8 L653.7,232.5 L654.9,229.4 L656.0,228.7 L657.0,231.6 L658.0,229.3 L658.9,225.0 L659.7,220.9 L660.5,219.2 L661.4,223.8 L662.2,226.3 L663.1,229.7 L663.9,232.8 L664.8,236.8 L665.8,232.3 L666.7,227.6 L667.7,230.1 L668.7,230.2 L669.4,225.7 L670.7,231.6 L671.6,231.2 L672.4,231.0 L673.3,232.2 L674.2,233.8 L675.0,234.5 L675.9,236.8 L677.2,227.6 L678.1,224.8 L678.9,223.2 L679.8,222.4 L681.1,221.1 L682.4,226.3 L683.1,232.9 L684.0,230.0 L685.0,229.6 L686.0,228.9 L687.0,229.4 L687.9,229.5 L688.9,230.2 L689.7,229.6 L690.5,227.0 L691.3,226.3 L692.1,224.1 L692.9,223.7 L693.8,222.8 L694.6,221.5 L695.5,222.4 L696.4,221.7 L697.2,221.0 L698.1,222.4 L699.0,224.7 L700.0,225.7 L700.8,224.4 L701.6,221.9 L702.5,221.2 L703.3,219.8 L704.6,227.6 L705.6,227.5 L706.6,225.0 L707.5,226.5 L708.5,230.2 L709.5,233.7 L710.5,235.5" fill="none" stroke="#2f96ef" stroke-width="2.4" stroke-linejoin="round" stroke-linecap="round"/>
<line x1="5.0" y1="235.5" x2="715.3" y2="235.5" stroke="#4a9ff0" stroke-width="1" stroke-dasharray="1,1"/>
<rect x="5.0" y="325.4" width="710.3" height="49.1" fill="#f4e6fc"/>
<g stroke="#b8b8b8" stroke-width="1" stroke-dasharray="4.5,3.5"><line x1="5.0" y1="325.4" x2="715.3" y2="325.4"/><line x1="5.0" y1="374.5" x2="715.3" y2="374.5"/></g>
<g stroke="#dfdcf4" stroke-width="1"><line x1="5.0" y1="337.6" x2="715.3" y2="337.6"/><line x1="5.0" y1="362.2" x2="715.3" y2="362.2"/></g>
<path d="M5.5,343.8 L6.7,340.8 L7.6,356.0 L8.3,348.3 L9.1,340.8 L9.8,347.8 L10.6,354.5 L11.4,357.9 L12.2,359.0 L12.9,354.4 L13.7,349.9 L14.4,351.5 L15.2,353.0 L15.9,346.6 L16.6,339.0 L17.3,333.2 L18.1,340.1 L18.8,346.9 L20.1,340.8 L21.0,343.4 L21.9,345.3 L22.8,340.8 L23.7,334.7 L24.9,339.3 L25.8,336.7 L26.7,336.2 L28.0,357.5 L28.8,347.9 L29.5,339.3 L30.4,333.2 L31.1,323.0 L31.9,315.0 L32.7,315.8 L33.4,315.5 L34.2,313.8 L35.0,316.3 L35.7,316.2 L36.5,315.4 L37.2,315.3 L38.0,315.0 L38.9,293.7 L40.1,307.4 L41.0,345.3 L41.9,359.0 L42.7,357.4 L43.5,357.5 L44.2,357.7 L44.9,360.6 L45.6,362.0 L46.3,359.9 L47.0,359.2 L47.7,359.0 L48.5,362.9 L49.2,368.1 L50.0,366.9 L50.9,368.0 L51.7,368.1 L52.5,372.5 L53.2,377.3 L54.0,375.1 L54.7,371.2 L55.5,371.0 L56.2,371.1 L57.0,370.6 L57.7,370.8 L58.5,370.0 L59.2,369.3 L60.0,369.7 L61.4,350.0 L62.4,353.4 L63.4,354.2 L64.1,351.3 L64.9,346.6 L65.6,341.5 L66.4,346.7 L67.1,350.4 L67.9,355.6 L68.8,355.4 L69.8,356.0 L70.7,357.0 L71.7,338.2 L72.7,321.7 L74.1,359.9 L74.8,365.5 L75.5,369.7 L76.2,376.5 L76.9,383.9 L77.7,392.6 L78.4,399.4 L79.8,378.2 L80.5,382.2 L81.2,386.7 L82.6,366.9 L83.3,366.0 L84.0,363.6 L84.7,359.2 L85.4,358.4 L86.3,357.2 L87.3,358.5 L88.2,357.0 L88.9,358.0 L89.7,360.4 L90.4,360.0 L91.1,361.3 L91.8,362.1 L92.6,365.4 L93.3,366.9 L94.2,364.1 L95.0,359.3 L95.8,355.3 L96.7,352.8 L97.6,351.0 L98.6,351.2 L99.5,348.6 L100.2,342.9 L101.0,335.8 L101.7,341.9 L102.4,350.0 L103.8,341.5 L104.5,350.0 L105.2,359.9 L106.0,352.7 L106.7,346.5 L107.5,341.5 L108.5,349.3 L109.4,355.6 L110.1,354.6 L110.8,355.5 L111.6,355.1 L112.3,355.1 L113.0,354.3 L113.7,355.7 L114.4,354.1 L115.1,355.5 L115.8,354.1 L116.5,354.9 L117.2,354.4 L117.9,355.1 L118.9,344.9 L119.9,335.8 L120.6,339.4 L121.4,341.3 L122.1,342.9 L122.8,347.7 L123.5,354.5 L124.3,358.0 L125.0,364.1 L125.9,359.6 L126.9,356.6 L127.8,351.4 L128.7,352.2 L129.7,351.3 L130.6,352.8 L131.3,357.2 L132.0,358.4 L132.7,361.7 L133.4,365.5 L134.1,363.7 L134.9,360.1 L135.6,357.5 L136.3,355.6 L137.0,347.0 L137.8,339.5 L138.5,333.0 L139.5,331.8 L140.5,330.2 L141.5,323.2 L142.5,317.5 L143.2,318.2 L144.0,318.1 L144.7,318.9 L145.4,325.1 L146.2,331.6 L146.9,333.5 L147.6,333.0 L148.3,333.9 L149.0,334.4 L149.7,339.6 L150.4,342.9 L151.3,341.1 L152.3,340.1 L153.2,340.1 L153.9,344.7 L154.6,348.0 L155.3,350.0 L156.0,354.2 L156.7,354.4 L157.4,356.9 L158.2,358.5 L158.9,358.4 L159.8,356.7 L160.8,357.7 L161.7,355.6 L162.4,360.8 L163.1,364.1 L163.8,369.7 L164.5,374.5 L165.2,379.0 L165.9,385.3 L166.6,379.2 L167.3,375.4 L168.1,371.0 L168.8,364.1 L169.7,357.8 L170.7,353.3 L171.6,347.1 L172.3,349.3 L173.0,353.6 L173.7,355.8 L174.4,358.4 L175.3,360.2 L176.3,362.3 L177.2,365.5 L177.9,366.4 L178.6,365.1 L179.4,365.8 L180.1,366.9 L180.8,361.8 L181.5,357.2 L182.2,351.3 L182.9,345.7 L183.8,344.2 L184.8,344.9 L185.7,342.9 L186.4,343.9 L187.1,345.2 L187.8,347.6 L188.5,350.0 L189.2,348.9 L189.9,347.0 L190.7,346.3 L191.4,345.9 L192.1,345.4 L192.8,344.3 L193.7,336.3 L194.7,329.8 L195.6,323.1 L196.3,328.4 L197.0,332.8 L197.7,336.3 L198.4,340.1 L199.1,341.5 L199.8,342.2 L200.6,342.0 L201.3,342.6 L202.0,343.5 L202.7,345.7 L203.4,348.5 L204.1,349.8 L204.8,352.2 L205.5,352.8 L206.3,349.6 L207.2,349.2 L208.0,346.8 L208.9,345.5 L209.7,342.9 L210.4,341.2 L211.1,341.8 L211.8,338.2 L212.6,338.3 L213.3,337.6 L214.0,335.8 L214.7,343.2 L215.4,348.6 L216.4,345.7 L217.3,341.5 L218.2,340.6 L219.2,338.7 L220.2,347.2 L221.2,354.2 L222.0,353.4 L222.7,350.1 L223.5,348.6 L224.2,348.1 L225.0,347.7 L225.7,345.7 L226.7,341.5 L227.7,335.3 L228.4,335.1 L229.1,336.1 L229.9,336.2 L230.6,335.5 L231.3,335.6 L232.0,335.0 L232.8,335.5 L233.5,335.6 L234.2,335.3 L235.3,344.3 L236.2,329.1 L237.0,316.1 L238.2,314.7 L239.0,344.3 L239.8,344.4 L240.7,345.0 L241.5,344.4 L242.4,343.8 L243.2,342.9 L243.9,332.7 L244.6,323.8 L245.4,313.5 L246.1,303.4 L246.8,301.8 L247.6,301.4 L248.3,299.1 L248.9,345.7 L249.6,340.4 L250.3,337.3 L251.1,338.0 L251.8,336.1 L252.6,337.6 L253.4,337.3 L254.2,336.6 L254.9,337.8 L255.7,337.3 L256.5,337.6 L257.2,338.4 L258.0,337.3 L258.8,327.5 L259.6,318.9 L260.6,316.9 L261.6,317.5 L263.0,331.6 L263.8,334.4 L264.5,338.7 L265.3,341.5 L266.3,347.1 L267.3,354.2 L268.2,344.9 L269.2,337.3 L270.0,338.8 L270.7,338.6 L271.5,338.7 L272.2,336.4 L272.9,335.5 L273.6,331.9 L274.3,330.2 L275.7,340.1 L276.7,335.6 L277.7,330.2 L278.4,329.4 L279.2,330.0 L279.9,331.0 L280.7,331.3 L281.4,330.2 L282.1,342.5 L282.8,352.8 L284.2,354.2 L284.9,344.7 L285.6,335.8 L287.0,334.4 L288.4,365.5 L289.1,366.8 L289.9,367.1 L290.6,367.7 L291.3,369.7 L292.7,390.9 L293.4,390.9 L294.2,391.8 L294.9,390.9 L295.5,374.0 L296.2,374.9 L296.9,374.5 L297.6,375.2 L298.4,373.4 L299.1,373.1 L299.8,373.9 L300.5,373.4 L301.2,374.0 L301.9,378.2 L302.6,383.9 L303.5,383.7 L304.3,384.2 L305.1,383.9 L306.0,383.9 L306.8,398.0 L308.2,366.9 L308.9,351.6 L309.6,337.3 L311.0,375.4 L311.7,376.3 L312.4,376.7 L313.1,375.3 L313.8,374.3 L314.6,374.2 L315.3,376.4 L316.0,374.2 L316.7,375.9 L317.4,375.6 L318.1,375.4 L319.0,355.6 L319.8,355.1 L320.6,356.4 L321.4,354.3 L322.2,354.7 L323.0,355.5 L323.8,355.6 L324.8,338.8 L325.7,324.5 L326.5,325.4 L327.4,324.5 L328.4,349.3 L329.4,375.4 L330.1,381.5 L330.8,389.5 L331.6,388.3 L332.3,389.8 L333.1,389.5 L333.6,358.4 L334.3,358.0 L335.0,358.3 L335.8,358.1 L336.5,358.3 L337.2,358.4 L337.9,357.0 L338.6,341.2 L339.3,324.5 L340.7,340.1 L341.4,340.7 L342.1,342.8 L342.8,343.5 L343.5,345.7 L344.2,347.3 L344.9,351.3 L345.7,354.7 L346.4,357.0 L347.1,357.6 L347.8,359.3 L348.5,360.9 L349.2,362.7 L349.9,360.0 L350.6,356.4 L351.3,353.5 L352.0,350.0 L352.8,350.7 L353.7,349.7 L354.5,350.8 L355.4,351.1 L356.2,350.0 L356.8,396.6 L357.7,366.9 L358.4,365.5 L359.1,367.3 L359.8,366.4 L360.5,365.5 L361.9,347.1 L362.6,342.3 L363.3,339.2 L364.0,335.8 L364.7,331.6 L365.4,333.6 L366.1,333.2 L366.9,334.6 L367.6,336.4 L368.3,337.1 L369.0,337.3 L369.7,339.9 L370.4,340.0 L371.1,341.9 L371.8,342.9 L372.3,340.1 L373.4,335.8 L374.2,369.7 L375.2,369.7 L376.2,371.2 L377.0,359.0 L377.9,345.7 L378.6,346.5 L379.3,346.1 L380.0,346.3 L380.7,345.7 L381.9,355.6 L382.8,351.4 L383.6,348.6 L384.6,357.4 L385.5,364.1 L386.9,351.4 L387.6,353.0 L388.4,353.3 L389.1,352.5 L389.8,352.8 L390.3,364.1 L391.1,355.7 L392.0,345.7 L392.8,345.5 L393.6,347.3 L394.3,347.4 L395.1,346.3 L395.9,345.9 L396.6,347.0 L397.4,347.6 L398.2,347.7 L398.9,349.5 L399.7,350.0 L400.4,359.1 L401.1,368.3 L402.5,389.5 L403.9,369.7 L404.6,376.3 L405.3,385.3 L406.7,381.0 L407.4,361.4 L408.1,340.1 L409.5,364.1 L410.2,365.1 L411.0,368.3 L412.4,351.4 L413.1,348.7 L413.8,343.5 L414.5,340.4 L415.2,337.3 L416.0,334.7 L416.7,329.8 L417.5,327.4 L418.3,326.1 L419.1,326.7 L420.0,326.9 L420.8,326.0 L421.6,340.3 L422.3,352.8 L423.0,352.2 L423.7,351.9 L424.4,349.6 L425.1,348.6 L426.1,341.3 L427.1,331.6 L427.8,335.7 L428.6,341.2 L429.3,347.1 L430.0,345.4 L430.7,343.1 L431.4,342.4 L432.1,340.1 L433.0,339.8 L433.8,338.8 L434.6,338.9 L435.5,337.3 L436.4,341.7 L437.2,345.7 L438.2,353.0 L439.2,361.3 L439.9,358.2 L440.6,356.5 L441.3,353.9 L442.0,350.0 L442.7,351.7 L443.4,355.9 L444.2,358.6 L444.9,359.9 L445.6,361.4 L446.3,362.9 L447.0,363.3 L447.7,365.5 L448.4,368.4 L449.1,371.2 L449.8,374.2 L450.5,376.8 L451.2,377.3 L451.9,381.6 L452.6,382.2 L453.3,383.9 L454.3,389.3 L455.3,395.2 L456.1,386.5 L456.8,376.5 L457.6,366.9 L458.5,359.8 L459.5,353.3 L460.4,345.7 L461.1,346.3 L461.8,349.4 L462.5,350.8 L463.2,352.8 L463.9,352.2 L464.6,350.4 L465.3,346.9 L466.0,345.7 L466.7,343.5 L467.4,340.5 L468.1,339.2 L468.9,338.1 L469.6,336.2 L470.3,333.0 L471.0,334.7 L471.7,336.1 L472.4,337.5 L473.1,340.1 L474.0,336.2 L475.0,332.7 L475.9,327.4 L476.6,324.3 L477.4,323.9 L478.1,319.8 L478.8,318.9 L480.2,316.1 L480.9,319.5 L481.6,324.5 L482.5,329.5 L483.5,336.3 L484.4,341.5 L485.1,361.5 L485.8,382.5 L487.2,369.7 L487.9,371.4 L488.6,374.3 L489.4,375.0 L490.1,378.2 L491.0,375.5 L492.0,370.6 L492.9,368.3 L493.6,370.8 L494.3,372.6 L495.0,374.9 L495.7,378.2 L496.4,379.7 L497.1,380.9 L497.8,382.2 L498.5,383.9 L499.5,363.9 L500.5,344.3 L501.3,348.1 L502.0,350.9 L502.8,355.6 L503.5,359.4 L504.2,365.1 L504.9,369.8 L505.6,374.0 L506.5,376.9 L507.5,380.6 L508.4,382.5 L509.1,387.7 L509.8,393.3 L510.5,396.6 L511.2,402.2 L512.0,371.8 L512.7,340.1 L514.1,335.8 L515.0,339.4 L516.0,342.5 L516.9,344.3 L517.6,341.7 L518.3,339.6 L519.0,339.0 L519.7,335.8 L520.4,334.8 L521.1,336.6 L521.9,336.1 L522.6,333.9 L523.3,334.0 L524.0,334.4 L524.8,334.8 L525.5,333.5 L526.3,332.9 L527.0,334.6 L527.8,333.6 L528.5,337.3 L529.2,341.5 L530.2,344.4 L531.2,345.7 L532.0,349.0 L532.9,354.2 L534.3,306.2 L535.0,313.0 L535.7,320.3 L536.9,330.2 L537.7,352.8 L539.1,345.7 L539.9,349.0 L540.6,350.1 L541.4,354.2 L542.4,355.5 L543.4,358.4 L544.1,356.0 L544.8,353.8 L545.5,351.1 L546.2,347.1 L547.1,347.5 L548.1,350.0 L549.0,351.4 L549.7,351.6 L550.4,350.5 L551.1,350.5 L551.8,348.7 L552.5,348.0 L553.2,348.6 L554.1,347.2 L554.9,346.6 L555.8,347.6 L556.6,347.1 L557.4,345.7 L558.1,344.5 L558.9,342.9 L560.3,365.5 L561.3,359.6 L562.3,355.6 L563.0,351.0 L563.8,347.3 L564.5,344.3 L565.2,352.2 L566.0,358.4 L566.9,356.9 L567.9,353.9 L568.8,350.0 L569.5,351.8 L570.2,354.5 L570.9,359.6 L571.6,361.3 L572.5,365.9 L573.5,371.4 L574.4,375.4 L575.8,351.4 L576.5,354.1 L577.2,357.7 L578.0,361.0 L578.7,364.1 L579.6,364.4 L580.6,365.3 L581.5,365.5 L582.2,364.7 L582.9,367.0 L583.6,367.8 L584.3,366.5 L585.0,367.7 L585.7,368.3 L586.4,369.3 L587.2,368.8 L587.9,368.6 L588.6,369.7 L589.5,360.4 L590.5,352.8 L591.2,352.8 L592.0,351.5 L592.7,353.8 L593.4,352.8 L594.2,360.6 L595.1,366.9 L596.0,375.9 L597.0,383.9 L598.0,378.5 L599.0,371.2 L599.8,375.3 L600.5,378.5 L601.3,382.5 L602.0,382.4 L602.7,381.8 L603.4,382.6 L604.1,381.0 L605.5,388.1 L606.9,362.7 L607.7,362.6 L608.4,360.2 L609.2,359.9 L610.2,348.2 L611.2,334.4 L612.2,334.3 L613.1,333.0 L613.9,326.7 L614.6,319.7 L615.4,311.8 L616.2,311.3 L616.9,312.3 L617.7,311.0 L618.8,331.6 L619.5,327.0 L620.3,320.8 L621.0,314.7 L621.8,318.9 L622.5,321.7 L623.9,328.8 L625.3,323.1 L626.0,327.7 L626.7,330.7 L627.4,335.4 L628.1,338.7 L629.5,337.3 L630.2,336.2 L630.9,336.9 L631.6,337.2 L632.3,336.0 L633.0,336.9 L633.8,337.7 L634.5,337.6 L635.2,336.6 L635.9,338.5 L636.6,337.7 L637.3,336.9 L638.0,337.3 L639.4,369.7 L640.4,380.7 L641.4,390.9 L642.1,389.7 L642.9,388.2 L643.6,386.7 L644.3,387.5 L645.0,390.1 L645.8,390.2 L646.5,390.9 L647.2,396.2 L648.0,401.0 L648.7,405.1 L649.7,394.3 L650.7,381.0 L651.7,377.0 L652.7,375.4 L654.1,352.8 L654.9,352.2 L655.6,351.6 L656.4,350.0 L657.4,343.0 L658.4,337.3 L659.3,338.4 L660.3,340.1 L661.1,343.6 L661.8,348.7 L662.6,354.2 L663.5,352.0 L664.5,349.4 L665.4,348.6 L666.1,349.0 L666.8,351.8 L667.5,351.9 L668.2,352.8 L668.9,354.6 L669.7,357.6 L670.4,358.3 L671.1,359.9 L672.0,357.9 L673.0,353.7 L673.9,350.0 L674.6,349.0 L675.3,345.3 L676.0,344.9 L676.7,342.9 L677.7,342.2 L678.7,340.1 L679.5,336.1 L680.2,335.6 L681.0,331.6 L682.4,352.8 L683.1,351.2 L683.8,351.3 L684.5,349.8 L685.2,350.0 L686.0,349.1 L686.9,348.6 L687.7,346.3 L688.6,347.7 L689.4,345.7 L690.1,341.6 L690.8,338.0 L691.6,334.3 L692.3,330.2 L693.0,332.0 L693.7,334.4 L694.6,333.4 L695.6,333.9 L696.5,333.0 L697.9,345.7 L698.6,346.6 L699.3,346.6 L700.0,348.4 L700.7,348.6 L702.1,345.7 L702.9,347.5 L703.6,349.2 L704.4,352.8 L705.4,352.1 L706.4,352.8 L707.1,356.9 L707.8,362.5 L708.5,369.4 L709.2,374.0" fill="none" stroke="#9b2bb3" stroke-width="1.05" stroke-linejoin="round"/>
<g stroke="#94979e" stroke-width="1.7" fill="none"><path d="M5.0,431.9 L5.0,33.4 L762.7,33.4 L762.7,431.9 Z"/><line x1="715.3" y1="33.4" x2="715.3" y2="413.0"/><line x1="5.0" y1="413.0" x2="715.3" y2="413.0"/></g>
<line x1="5.0" y1="285.4" x2="762.7" y2="285.4" stroke="#686b73" stroke-width="1.0"/>
<g stroke="#94979e" stroke-width="1"><line x1="715.3" y1="45.3" x2="719.3" y2="45.3"/><line x1="715.3" y1="69.2" x2="719.3" y2="69.2"/><line x1="715.3" y1="93.0" x2="719.3" y2="93.0"/><line x1="715.3" y1="116.9" x2="719.3" y2="116.9"/><line x1="715.3" y1="140.7" x2="719.3" y2="140.7"/><line x1="715.3" y1="164.6" x2="719.3" y2="164.6"/><line x1="715.3" y1="188.4" x2="719.3" y2="188.4"/><line x1="715.3" y1="212.2" x2="719.3" y2="212.2"/><line x1="715.3" y1="236.1" x2="719.3" y2="236.1"/><line x1="715.3" y1="259.9" x2="719.3" y2="259.9"/><line x1="715.3" y1="283.8" x2="719.3" y2="283.8"/><line x1="715.3" y1="288.6" x2="719.3" y2="288.6"/><line x1="715.3" y1="313.1" x2="719.3" y2="313.1"/><line x1="715.3" y1="337.6" x2="719.3" y2="337.6"/><line x1="715.3" y1="362.2" x2="719.3" y2="362.2"/><line x1="715.3" y1="386.8" x2="719.3" y2="386.8"/><line x1="8.8" y1="413.0" x2="8.8" y2="416.5"/><line x1="101.8" y1="413.0" x2="101.8" y2="416.5"/><line x1="194.8" y1="413.0" x2="194.8" y2="416.5"/><line x1="287.8" y1="413.0" x2="287.8" y2="416.5"/><line x1="380.8" y1="413.0" x2="380.8" y2="416.5"/><line x1="473.8" y1="413.0" x2="473.8" y2="416.5"/><line x1="566.8" y1="413.0" x2="566.8" y2="416.5"/><line x1="659.8" y1="413.0" x2="659.8" y2="416.5"/></g>
<g font-size="8.6" fill="#45474c" stroke="#45474c" stroke-width="0.35"><text x="722.3" y="48.7" textLength="29.2" lengthAdjust="spacingAndGlyphs">3440.00</text><text x="722.3" y="72.6" textLength="29.2" lengthAdjust="spacingAndGlyphs">3430.00</text><text x="722.3" y="96.4" textLength="29.2" lengthAdjust="spacingAndGlyphs">3420.00</text><text x="722.3" y="120.3" textLength="29.2" lengthAdjust="spacingAndGlyphs">3410.00</text><text x="722.3" y="144.1" textLength="29.2" lengthAdjust="spacingAndGlyphs">3400.00</text><text x="722.3" y="168.0" textLength="29.2" lengthAdjust="spacingAndGlyphs">3390.00</text><text x="722.3" y="191.8" textLength="29.2" lengthAdjust="spacingAndGlyphs">3380.00</text><text x="722.3" y="215.7" textLength="29.2" lengthAdjust="spacingAndGlyphs">3370.00</text><text x="722.3" y="239.5" textLength="29.2" lengthAdjust="spacingAndGlyphs">3360.00</text><text x="722.3" y="263.3" textLength="29.2" lengthAdjust="spacingAndGlyphs">3350.00</text><text x="722.3" y="287.2" textLength="29.2" lengthAdjust="spacingAndGlyphs" clip-path="url(#clipP)">3340.00</text><text x="722.6" y="291.9" textLength="33.2" lengthAdjust="spacingAndGlyphs">100.0000</text><text x="722.6" y="316.5" textLength="29.2" lengthAdjust="spacingAndGlyphs">80.0000</text><text x="722.6" y="341.0" textLength="29.2" lengthAdjust="spacingAndGlyphs">60.0000</text><text x="722.6" y="365.6" textLength="29.2" lengthAdjust="spacingAndGlyphs">40.0000</text><text x="722.6" y="390.1" textLength="29.2" lengthAdjust="spacingAndGlyphs">20.0000</text></g>
<rect x="715.3" y="229.2" width="42.6" height="12.2" fill="#2196f3"/>
<text x="722.2" y="238.0" font-size="8.8" fill="#fff" stroke="#fff" stroke-width="0.1" textLength="30" lengthAdjust="spacingAndGlyphs">3360.46</text>
<rect x="727.9" y="243.1" width="30" height="12.2" fill="#2196f3"/>
<text x="730.5" y="252.0" font-size="8.8" fill="#fff" stroke="#fff" stroke-width="0.1" textLength="21.3" lengthAdjust="spacingAndGlyphs">00:42</text>
<g font-size="9" fill="#45474c" stroke="#45474c" stroke-width="0.35"><text x="-1.9" y="426.6" textLength="21.3" lengthAdjust="spacingAndGlyphs" clip-path="url(#clipL)">18:00</text><text x="91.4" y="426.6" textLength="20.4" lengthAdjust="spacingAndGlyphs">21:00</text><text x="192.5" y="426.6">6</text><text x="277.8" y="426.6" textLength="20.4" lengthAdjust="spacingAndGlyphs">03:00</text><text x="371.0" y="426.6" textLength="20.4" lengthAdjust="spacingAndGlyphs">06:00</text><text x="464.2" y="426.6" textLength="20.4" lengthAdjust="spacingAndGlyphs">09:00</text><text x="557.4" y="426.6" textLength="20.4" lengthAdjust="spacingAndGlyphs">12:00</text><text x="650.6" y="426.6" textLength="20.4" lengthAdjust="spacingAndGlyphs">15:00</text></g>
<text x="11.9" y="49.3" font-size="9.8" font-weight="bold" fill="#4f535b" stroke="#4f535b" stroke-width="0.1" textLength="100.3" lengthAdjust="spacingAndGlyphs">BTC/USD, 1, COINBASE</text>
<text x="11.9" y="62.3" font-size="9.8" fill="#50545c" stroke="#50545c" stroke-width="0.15" textLength="32.5" lengthAdjust="spacingAndGlyphs">Vol (20)</text>
<text x="11.8" y="302.2" font-size="10.8" fill="#50545c" stroke="#50545c" stroke-width="0.15" textLength="58.6" lengthAdjust="spacingAndGlyphs">RSI (14, close)</text>
<text x="5.1" y="12.9" font-size="9.7" fill="#45b3e6" stroke="#45b3e6" stroke-width="0.3" textLength="49.3" lengthAdjust="spacingAndGlyphs">Bitillionaire</text>
<text x="57.5" y="12.9" font-size="9.9" fill="#2b2b2b" stroke="#2b2b2b" stroke-width="0.15" textLength="271.7" lengthAdjust="spacingAndGlyphs">published on TradingView.com, February 06, 2019 16:38:20 EST</text>
<text x="5.3" y="25.7" font-size="10.4" font-weight="bold" fill="#1e1e1e" stroke="#1e1e1e" stroke-width="0.1" textLength="93.6" lengthAdjust="spacingAndGlyphs">COINBASE:BTCUSD, 1</text>
<text x="103.3" y="25.7" font-size="10.4" fill="#2b2b2b" stroke="#2b2b2b" stroke-width="0.25" textLength="34.4" lengthAdjust="spacingAndGlyphs">3360.46</text>
<text x="151.3" y="25.7" font-size="10.4" fill="#2b2b2b" stroke="#2b2b2b" stroke-width="0.25" textLength="69.7" lengthAdjust="spacingAndGlyphs">−67.94 (−1.98%)</text>
<text x="225.2" y="25.7" font-size="10.4" font-weight="bold" fill="#1e1e1e" stroke="#1e1e1e" stroke-width="0.1" textLength="9.1" lengthAdjust="spacingAndGlyphs">O:</text>
<text x="235.1" y="25.7" font-size="10.4" fill="#c43c3c" stroke="#c43c3c" stroke-width="0.25" textLength="34.9" lengthAdjust="spacingAndGlyphs">3360.78</text>
<text x="273.4" y="25.7" font-size="10.4" font-weight="bold" fill="#1e1e1e" stroke="#1e1e1e" stroke-width="0.1" textLength="9.9" lengthAdjust="spacingAndGlyphs">H:</text>
<text x="284.3" y="25.7" font-size="10.4" fill="#c43c3c" stroke="#c43c3c" stroke-width="0.25" textLength="34.7" lengthAdjust="spacingAndGlyphs">3361.04</text>
<text x="322.3" y="25.7" font-size="10.4" font-weight="bold" fill="#1e1e1e" stroke="#1e1e1e" stroke-width="0.1" textLength="7.1" lengthAdjust="spacingAndGlyphs">L:</text>
<text x="330.7" y="25.7" font-size="10.4" fill="#c43c3c" stroke="#c43c3c" stroke-width="0.25" textLength="33.8" lengthAdjust="spacingAndGlyphs">3360.01</text>
<text x="369" y="25.7" font-size="10.4" font-weight="bold" fill="#1e1e1e" stroke="#1e1e1e" stroke-width="0.1" textLength="8.0" lengthAdjust="spacingAndGlyphs">C:</text>
<text x="378" y="25.7" font-size="10.4" fill="#c43c3c" stroke="#c43c3c" stroke-width="0.25" textLength="34.7" lengthAdjust="spacingAndGlyphs">3360.46</text>
<path d="M140.4,19.3 L148.8,19.3 L144.6,27.4 Z" fill="#a00000"/>
<text x="4.6" y="450" font-size="10.2" fill="#333" stroke="#333" stroke-width="0.15" textLength="55.5" lengthAdjust="spacingAndGlyphs">Created with</text>
<g fill="#58bde8"><rect x="62.6" y="446" width="17.8" height="5.4" rx="2.7"/><circle cx="71" cy="445.6" r="5.2"/><circle cx="66" cy="448" r="3.3"/><circle cx="77" cy="448.3" r="3.2"/></g>
<path d="M63.7,450.2 L69.1,444.9 L73.4,449.9 L78.6,444.9" fill="none" stroke="#fff" stroke-width="1.1"/>
<text x="81" y="450" font-size="10.2" fill="#58bde8" stroke="#58bde8" stroke-width="0.15" textLength="53.8" lengthAdjust="spacingAndGlyphs">TradingView</text>
</svg></body></html>
